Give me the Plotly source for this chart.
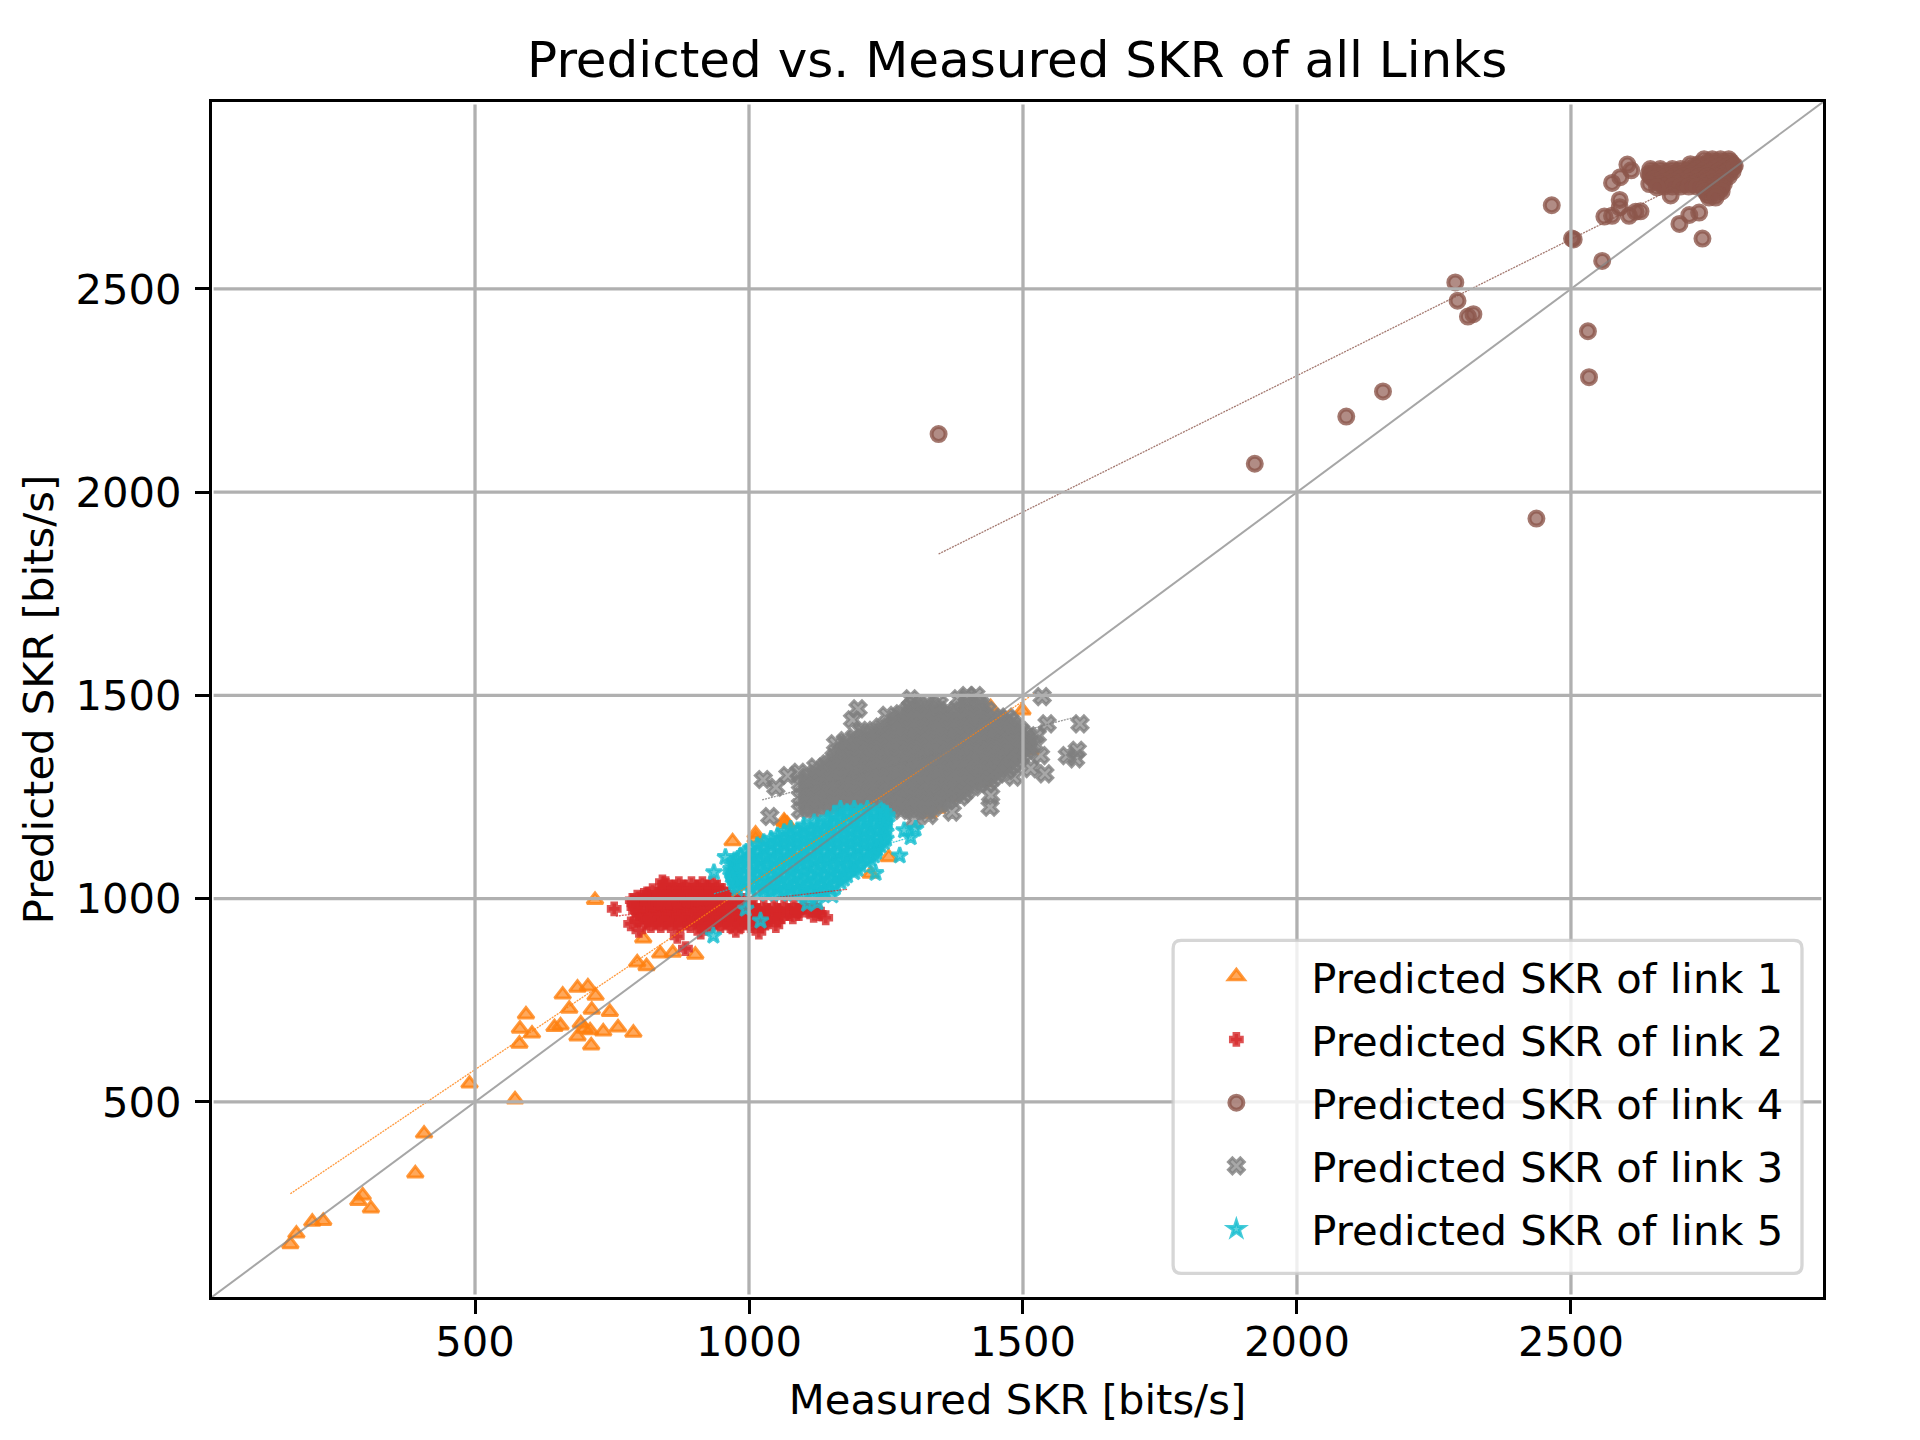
import plotly.graph_objects as go

FONT = "DejaVu Sans"

# ---- link 1 ----
link1_x = [163,174,203,223,287,295,310,391,407,490,573,581,582,593,604,645,656,660,672,687,706,720,713,687,693,700,710,712,734,746,761,789,719,807,796,813,838,861,902,970,1012,1012,1065,
           1441,1499,1514,1417,1429,1365,1344,1328,1064,1070,1255,1222]
link1_y = [150,176,205,207,256,270,238,324,422,545,506,643,680,715,668,684,688,764,729,781,784,761,727,661,693,680,676,639,673,721,683,670,997,902,843,834,865,867,862,1141,1160,1148,1188,
           1471,1463,1365,1299,1287,1250,1221,1209,1192,1184,1102,1061]

# ---- link 2: (predicted, [measured...]) read row by row off the dense cloud ----
link2_rows = [
    (1037,[848,872,895,915,933]),
    (1029,[845,863,881,906,924,942]),
    (1020,[824,842,860,878,897,915,933,951]),
    (1012,[814,833,851,869,888,906,924,942,960]),
    (1004,[796,814,833,851,869,888,906,924,942,960,978]),
    (996,[787,805,824,842,860,878,897,915,933,951,970,988]),
    (988,[790,799,818,836,854,872,891,909,927,945,963,982,1000]),
    (979,[790,808,827,845,863,881,900,918,936,954,973,991,1009,1027,1046,1064,1082,1100,1119]),
    (971,[793,814,833,851,869,887,906,924,942,960,979,997,1015,1033,1052,1073,1091,1110,1125]),
    (963,[799,818,836,854,872,891,909,927,945,963,982,1000,1018,1036,1055,1073,1091,1128]),
    (955,[805,824,842,860,878,897,915,933,951,970,988,1006,1024,1042,1060,1080]),
    (947,[796,815,833,851,869,887,906,924,942,960,979,997,1015,1033,1052]),
    (940,[812,830,848,866,884,903,921,939,957,975,994,1012,1030]),
    (934,[821,839,857,875,893,912,930,948,966,985,1003,1021]),
]
link2_extra_x = [754,884,1018,1140,1118,1049,1088,842,808,784,799,976,869,912]
link2_extra_y = [975,877,918,953,959,934,971,1041,1008,938,922,922,907,918]
link2_x = [x for y, xs in link2_rows for x in xs] + link2_extra_x
link2_y = [y for y, xs in link2_rows for x in xs] + link2_extra_y

# ---- link 4 ----
link4_rows = [
    (2819,[2743,2758,2773,2788]),
    (2813,[2750,2765,2780,2792]),
    (2807,[2718,2733,2749,2764,2779,2794]),
    (2801,[2725,2740,2755,2770,2785,2797]),
    (2795,[2645,2663,2685,2700,2715,2730,2746,2761,2776,2791]),
    (2789,[2650,2668,2680,2695,2710,2725,2740,2755,2770,2785,2795]),
    (2783,[2642,2657,2673,2688,2703,2718,2733,2749,2764,2779]),
    (2777,[2645,2660,2675,2690,2705,2720,2735,2750,2765,2780,2788]),
    (2770,[2651,2667,2682,2697,2712,2727,2743,2758,2773]),
    (2764,[2655,2672,2688,2703,2718,2733,2748,2763,2776]),
    (2758,[2663,2679,2694,2709,2724,2740,2755,2770,2779]),
    (2752,[2670,2685,2700,2715,2730,2745,2760,2775]),
    (2746,[2743,2758,2773]),
    (2740,[2745,2760,2775]),
    (2733,[2749,2764]),
    (2725,[2752,2764]),
]
link4_extra_x = [1346,1923,2090,2157,2289,2293,2312,2322,2437,2465,2502,2505,2557,2531,2533,2740,2698,2716,2734,2575,2590,2603,2610,2589,2589,2561,2575,2606,2618,2627,2682,2643,2657,2799]
link4_extra_y = [2143,2070,2186,2248,2516,2471,2432,2438,1935,2706,2624,2622,2569,2396,2283,2624,2660,2682,2688,2761,2775,2806,2792,2719,2701,2678,2680,2680,2690,2691,2730,2758,2750,2803]
link4_x = [x for y, xs in link4_rows for x in xs] + link4_extra_x
link4_y = [y for y, xs in link4_rows for x in xs] + link4_extra_y

# ---- link 3 ----
link3_rows = [
    (1479,[1301,1325,1398,1423]),
    (1471,[1295,1313,1338,1398,1423]),
    (1463,[1289,1313,1338,1362,1386,1410,1435]),
    (1455,[1277,1301,1325,1350,1374,1398,1423]),
    (1447,[1277,1301,1325,1350,1374,1398,1423,1447,1471]),
    (1439,[1265,1289,1313,1338,1362,1386,1410,1435,1459,1475]),
    (1430,[1265,1289,1313,1338,1362,1386,1410,1435,1459,1483]),
    (1422,[1240,1265,1289,1313,1338,1362,1386,1410,1435,1459,1483]),
    (1414,[1204,1228,1252,1277,1301,1325,1350,1374,1398,1423,1447,1471,1496]),
    (1406,[1216,1240,1265,1289,1313,1338,1362,1386,1410,1435,1459,1483,1500]),
    (1397,[1192,1216,1240,1265,1289,1313,1338,1362,1386,1410,1435,1459,1483,1508]),
    (1389,[1204,1228,1252,1277,1301,1325,1350,1374,1398,1423,1447,1471,1496,1510]),
    (1381,[1179,1204,1228,1252,1277,1301,1325,1350,1374,1398,1423,1447,1471,1496,1520]),
    (1373,[1179,1204,1228,1252,1277,1301,1325,1350,1374,1398,1423,1447,1471,1496,1510]),
    (1365,[1167,1192,1216,1240,1265,1289,1313,1338,1362,1386,1410,1435,1459,1483,1508]),
    (1357,[1167,1192,1216,1240,1265,1289,1313,1338,1362,1386,1410,1435,1459,1483,1500]),
    (1348,[1155,1179,1204,1228,1252,1277,1301,1325,1350,1374,1398,1423,1447,1471,1496]),
    (1340,[1155,1179,1204,1228,1252,1277,1301,1325,1350,1374,1398,1423,1447,1471,1488]),
    (1332,[1143,1167,1192,1216,1240,1265,1289,1313,1338,1362,1386,1410,1435,1459,1483]),
    (1324,[1143,1167,1192,1216,1240,1265,1289,1313,1338,1362,1386,1410,1435,1459,1475]),
    (1315,[1131,1155,1179,1204,1228,1252,1277,1301,1325,1350,1374,1398,1423,1447,1471]),
    (1307,[1119,1143,1167,1192,1216,1240,1265,1289,1313,1338,1362,1386,1410,1435,1455]),
    (1299,[1106,1131,1155,1179,1204,1228,1252,1277,1301,1325,1350,1374,1398,1423,1447]),
    (1291,[1106,1131,1155,1179,1204,1228,1252,1277,1301,1325,1350,1374,1398,1423,1440]),
    (1283,[1094,1119,1143,1167,1192,1216,1240,1265,1289,1313,1338,1362,1386,1410,1435]),
    (1275,[1106,1119,1143,1167,1192,1216,1240,1265,1289,1313,1338,1362,1386,1410]),
    (1266,[1106,1131,1155,1179,1204,1228,1252,1277,1301,1325,1350,1374,1398]),
    (1258,[1106,1131,1155,1179,1204,1228,1252,1277,1301,1325,1350,1374,1392]),
    (1250,[1094,1119,1143,1167,1192,1216,1240,1265,1289,1313,1338,1362,1386]),
    (1241,[1106,1119,1143,1167,1192,1216,1240,1265,1289,1313,1338,1362]),
    (1233,[1106,1131,1155,1179,1204,1228,1252,1277,1301,1325,1350]),
    (1225,[1106,1131,1155,1265,1289,1313,1338]),
    (1217,[1094,1119,1277,1301,1325]),
]
link3_extra_x = [1026,1049,1071,1091,1122,1038,1199,1189,1158,1176,1252,1295,1347,1383,1398,1414,1535,1544,1604,1581,1599,1596,1540,1514,1483,1441,1440,1371,1328,1301,1532,1526]
link3_extra_y = [1293,1274,1303,1311,1324,1202,1467,1440,1381,1389,1451,1492,1479,1492,1500,1500,1497,1430,1430,1352,1365,1344,1307,1320,1299,1254,1225,1213,1205,1192,1352,1401]
link3_x = [x for y, xs in link3_rows for x in xs] + link3_extra_x
link3_y = [y for y, xs in link3_rows for x in xs] + link3_extra_y

# ---- link 5 ----
link5_rows = [
    (1221,[1167,1192,1216,1240]),
    (1213,[1179,1204,1228,1246]),
    (1205,[1155,1179,1204,1228,1252]),
    (1197,[1143,1167,1192,1216,1240,1252]),
    (1188,[1119,1143,1167,1192,1216,1240,1252]),
    (1180,[1100,1125,1149,1173,1198,1222,1246]),
    (1172,[1076,1100,1125,1149,1173,1198,1222,1246]),
    (1164,[1064,1088,1113,1137,1161,1185,1210,1234,1250]),
    (1155,[1052,1076,1100,1125,1149,1173,1198,1222,1246]),
    (1147,[1040,1064,1088,1113,1137,1161,1185,1210,1234,1250]),
    (1139,[1027,1052,1076,1100,1125,1149,1173,1198,1222,1246]),
    (1131,[1015,1040,1064,1088,1113,1137,1161,1185,1210,1240]),
    (1123,[1003,1027,1052,1076,1100,1125,1149,1173,1198,1222,1234]),
    (1115,[995,1015,1040,1064,1088,1113,1137,1161,1185,1210,1232]),
    (1106,[985,1009,1033,1058,1082,1106,1131,1155,1179,1204,1228]),
    (1098,[979,1003,1027,1052,1076,1100,1125,1149,1173,1198,1222]),
    (1090,[973,997,1021,1046,1070,1094,1119,1143,1167,1192,1216]),
    (1082,[970,985,1009,1033,1058,1082,1106,1131,1155,1179,1204]),
    (1073,[967,991,1015,1040,1064,1088,1113,1137,1161,1185,1198]),
    (1065,[967,979,1003,1027,1052,1076,1100,1125,1149,1173,1192]),
    (1057,[967,991,1015,1040,1064,1088,1113,1137,1161,1179]),
    (1049,[970,985,1009,1033,1058,1082,1106,1131,1155,1173]),
    (1041,[973,997,1021,1046,1070,1094,1119,1143,1167]),
    (1033,[976,991,1015,1040,1064,1088,1113,1137,1158]),
    (1024,[979,1003,1027,1052,1076,1100,1125,1149]),
    (1018,[1015,1040,1064,1088,1113,1137]),
    (1012,[1033,1058,1082,1106,1131]),
]
link5_extra_x = [936,1275,1231,1295,1283,994,1021,935,1125,1152,1106,1304,957]
link5_extra_y = [1065,1106,1063,1151,1168,975,946,909,991,1008,987,1172,1102]
link5_x = [x for y, xs in link5_rows for x in xs] + link5_extra_x
link5_y = [y for y, xs in link5_rows for x in xs] + link5_extra_y

# fitted lines
fit1_x, fit1_y = [163, 1520], [274, 1504]
fit2_x, fit2_y = [757, 1179], [957, 1023]
fit3_x, fit3_y = [1024, 1599], [1243, 1448]
fit4_x, fit4_y = [1346, 2790], [1848, 2817]
fit5_x, fit5_y = [936, 1295], [1012, 1151]
ideal = [20, 2960]

ticks = [500, 1000, 1500, 2000, 2500]
AX_RANGE = [20, 2960]

series = [
    ("Predicted SKR of link 1", link1_x, link1_y, "triangle-up", 14, "255,127,14", 3),
    ("Predicted SKR of link 2", link2_x, link2_y, "cross", 9, "214,39,40", 4),
    ("Predicted SKR of link 4", link4_x, link4_y, "circle", 14, "140,86,75", 4),
    ("Predicted SKR of link 3", link3_x, link3_y, "x", 14, "127,127,127", 3),
    ("Predicted SKR of link 5", link5_x, link5_y, "star", 12, "23,190,207", 3),
]

fig = go.Figure()
for i, (name, xs, ys, sym, size, rgb, lw) in enumerate(series):
    fig.add_trace(go.Scatter(
        x=xs, y=ys, mode="markers", name=name, legendgroup=name,
        marker=dict(symbol=sym, size=size, color=f"rgba({rgb},0.68)",
                    line=dict(color=f"rgba({rgb},0.8)", width=lw)),
    ))

for xs, ys, rgb in [(fit1_x, fit1_y, "255,127,14"), (fit2_x, fit2_y, "214,39,40"),
                    (fit4_x, fit4_y, "140,86,75"), (fit3_x, fit3_y, "127,127,127"),
                    (fit5_x, fit5_y, "23,190,207")]:
    fig.add_trace(go.Scatter(x=xs, y=ys, mode="lines", showlegend=False,
                             line=dict(color=f"rgba({rgb},0.8)", width=1.3, dash="2px,1px")))
fig.add_trace(go.Scatter(x=ideal, y=ideal, mode="lines", showlegend=False,
                         line=dict(color="rgba(128,128,128,0.7)", width=2)))

shapes = []
for t in ticks:
    shapes.append(dict(type="line", layer="above", xref="x", yref="paper", x0=t, x1=t, y0=0.002, y1=0.998,
                       line=dict(color="#b0b0b0", width=3.3)))
    shapes.append(dict(type="line", layer="above", xref="paper", yref="y", x0=0.001, x1=0.999, y0=t, y1=t,
                       line=dict(color="#b0b0b0", width=3.3)))

# rounded legend frame (paper fractions of the plot area)
fx0, fx1, fy0, fy1, dx, dy = 0.5966, 0.98697, 0.0198, 0.2984, 0.005, 0.0067
shapes.append(dict(
    type="path", layer="above", xref="paper", yref="paper",
    path=(f"M {fx0+dx} {fy0} L {fx1-dx} {fy0} Q {fx1} {fy0} {fx1} {fy0+dy} L {fx1} {fy1-dy} "
          f"Q {fx1} {fy1} {fx1-dx} {fy1} L {fx0+dx} {fy1} Q {fx0} {fy1} {fx0} {fy1-dy} "
          f"L {fx0} {fy0+dy} Q {fx0} {fy0} {fx0+dx} {fy0} Z"),
    fillcolor="rgba(255,255,255,0.8)", line=dict(color="rgba(204,204,204,0.8)", width=3.3),
))

axis_common = dict(
    range=AX_RANGE, tickmode="array", tickvals=ticks, ticktext=[str(t) for t in ticks],
    showgrid=False, zeroline=False, showline=True, mirror=True, linecolor="black", linewidth=3.3,
    ticks="outside", ticklen=14, tickwidth=3.3, tickcolor="black",
    tickfont=dict(family=FONT, size=41.7, color="black"),
)

fig.update_layout(
    width=1920, height=1440, autosize=False,
    margin=dict(l=211.7, r=97, t=101.5, b=143.3, pad=0),
    paper_bgcolor="white", plot_bgcolor="white",
    font=dict(family=FONT, color="black"),
    title=dict(text="Predicted vs. Measured SKR of all Links", x=0.5298, xanchor="center",
               y=0.959, yanchor="middle", font=dict(family=FONT, size=50, color="black")),
    xaxis=dict(title=dict(text="Measured SKR [bits/s]", font=dict(family=FONT, size=41.7), standoff=20),
               ticklabelstandoff=-8, **axis_common),
    yaxis=dict(title=dict(text="Predicted SKR [bits/s]", font=dict(family=FONT, size=41.7), standoff=9),
               ticklabelstandoff=5, **axis_common),
    shapes=shapes,
    legend=dict(x=0.5893, xanchor="left", y=0.0279, yanchor="bottom",
                bgcolor="rgba(0,0,0,0)", borderwidth=0,
                font=dict(family=FONT, size=41.7, color="black"), itemwidth=140, tracegroupgap=6,
                itemsizing="trace"),
    showlegend=True,
)

fig.write_html("out.html", config={"displayModeBar": False},
               post_script="document.body.style.margin='0';document.body.style.overflow='hidden';")
